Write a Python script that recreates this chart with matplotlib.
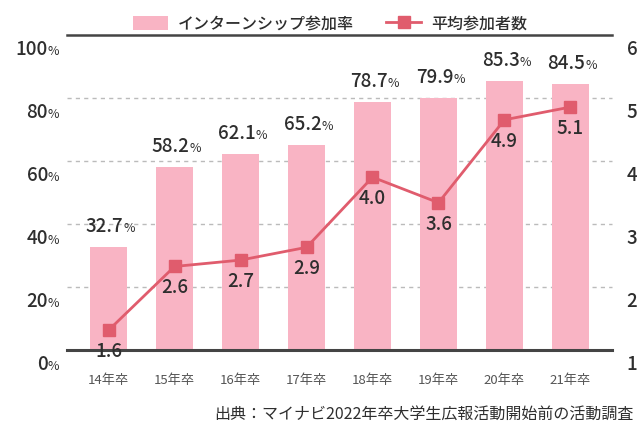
import matplotlib
matplotlib.use("Agg")
import matplotlib.pyplot as plt
import numpy as np

plt.rcParams['font.family'] = ['Noto Sans CJK JP', 'DejaVu Sans']

# data
years = ["14年卒", "15年卒", "16年卒", "17年卒", "18年卒", "19年卒", "20年卒", "21年卒"]
rate = [32.7, 58.2, 62.1, 65.2, 78.7, 79.9, 85.3, 84.5]
avg_count = [1.6, 2.6, 2.7, 2.9, 4.0, 3.6, 4.9, 5.1]
left_ticks = [0, 20, 40, 60, 80, 100]
right_labels = ["1", "2", "3", "4", "5", "6"]
source = "出典：マイナビ2022年卒大学生広報活動開始前の活動調査"

bar_color = "#F9B4C4"
line_color = "#E05C6D"
text_color = "#2e2e2e"
num_size = 13.5

W, H = 637, 425
fig = plt.figure(figsize=(W / 100, H / 100), dpi=100)
ax = fig.add_axes([67 / W, 75 / H, (612 - 67) / W, 315 / H])
x = np.arange(len(years))

bars = ax.bar(x, rate, width=0.57, color=bar_color, zorder=2, label="インターンシップ参加率")
ax.set_xlim(-0.63, len(years) - 0.37)
ax.set_ylim(0, 100)

# dashed grid
for t in left_ticks[1:-1]:
    ax.axhline(t, color="#bbbbbb", lw=1, dashes=(3, 3), zorder=1, clip_on=False)

for s in ["left", "right"]:
    ax.spines[s].set_visible(False)
ax.spines["bottom"].set_color("#444444")
ax.spines["bottom"].set_linewidth(2.2)
ax.spines["top"].set_color("#444444")
ax.spines["top"].set_linewidth(1.8)

ax.set_yticks([])
ax.set_xticks(x)
ax.set_xticklabels(years, fontsize=9.5, color="#555555")
ax.tick_params(axis="x", length=0, pad=17)

# left axis labels (number + small %)
for t in left_ticks:
    ax.annotate(str(t), xy=(0, t), xycoords=("axes fraction", "data"),
                xytext=(-19, -20), textcoords="offset pixels",
                ha="right", va="baseline", fontsize=num_size, color=text_color, fontweight="medium")
    ax.annotate("%", xy=(0, t), xycoords=("axes fraction", "data"),
                xytext=(-19, -20), textcoords="offset pixels",
                ha="left", va="baseline", fontsize=9, color=text_color)

# right axis for average participants
ax2 = ax.twinx()
ax2.set_ylim(1.29, 6.23)
ax2.set_yticks([])
for s in ["left", "right", "top", "bottom"]:
    ax2.spines[s].set_visible(False)
for t, lab in zip(left_ticks, right_labels):
    ax.annotate(lab, xy=(1, t), xycoords=("axes fraction", "data"),
                xytext=(20, -20), textcoords="offset pixels",
                ha="center", va="baseline", fontsize=num_size, color=text_color, fontweight="medium")

line, = ax2.plot(x, avg_count, color=line_color, lw=2, marker="s", ms=9,
                 zorder=3, label="平均参加者数")

# bar value labels
for xi, v in zip(x, rate):
    ax.annotate(f"{v:.1f}", xy=(xi, v), xytext=(15, 15), textcoords="offset pixels",
                ha="right", va="baseline", fontsize=num_size, color=text_color, fontweight="medium")
    ax.annotate("%", xy=(xi, v), xytext=(15, 15), textcoords="offset pixels",
                ha="left", va="baseline", fontsize=9, color=text_color)

# line value labels
for xi, v in zip(x, avg_count):
    ax2.annotate(f"{v:.1f}", xy=(xi, v), xytext=(0, -27), textcoords="offset pixels",
                 ha="center", va="baseline", fontsize=num_size, color=text_color,
                 fontweight="medium", zorder=4)

leg = fig.legend(handles=[bars, line], loc="center", bbox_to_anchor=(330 / W, 1 - 24 / H),
                 ncol=2, frameon=False, fontsize=11.5, handlelength=2.2, handleheight=1.0,
                 columnspacing=2.0, handletextpad=0.6,
                 prop={"size": 11.5, "weight": "medium"})
for t in leg.get_texts():
    t.set_color(text_color)

fig.text(634 / W, 1 - 414 / H, source, ha="right", va="center", fontsize=11.5, color=text_color)

fig.savefig("out.png", dpi=100)
